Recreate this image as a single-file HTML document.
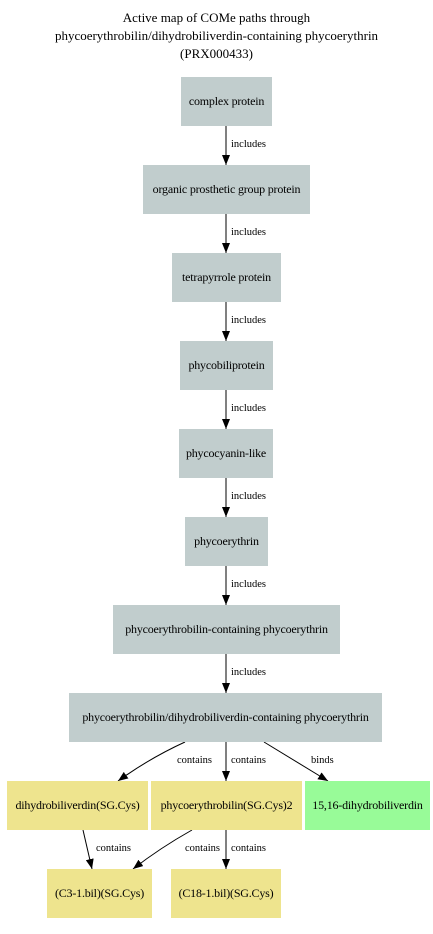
<!DOCTYPE html>
<html><head><meta charset="utf-8"><style>
body{margin:0;background:#fff;width:433px;height:934px;position:relative;overflow:hidden;font-family:"Liberation Serif",serif}
.n{position:absolute;display:flex;align-items:center;justify-content:center;font-size:12px;color:#000;white-space:nowrap;background:#c1cdcd;letter-spacing:-0.2px}
.y{background:#eee48e}.g{background:#98fb98}
.t{position:absolute;left:0;width:433px;text-align:center;font-size:13px;line-height:18px}
.l{position:absolute;font-size:10.5px;line-height:12px;white-space:nowrap}
svg{position:absolute;left:0;top:0}
</style></head><body>
<div class="t" style="top:9px">Active map of COMe paths through<br>phycoerythrobilin/dihydrobiliverdin-containing phycoerythrin<br>(PRX000433)</div>
<svg width="433" height="934">
<defs><marker id="a" markerWidth="10" markerHeight="8" refX="10" refY="4" orient="auto" markerUnits="userSpaceOnUse"><path d="M0,0L10,4L0,8z" fill="#000"/></marker></defs>
<g stroke="#000" stroke-width="1" marker-end="url(#a)">
<line x1="226" y1="126" x2="226" y2="165"/>
<line x1="226" y1="214" x2="226" y2="253"/>
<line x1="226" y1="302" x2="226" y2="341"/>
<line x1="226" y1="390" x2="226" y2="429"/>
<line x1="226" y1="478" x2="226" y2="517"/>
<line x1="226" y1="566" x2="226" y2="605"/>
<line x1="226" y1="654" x2="226" y2="693"/>
<path d="M185,742 Q150,758 118,781" fill="none"/>
<line x1="226" y1="742" x2="226" y2="781"/>
<line x1="264" y1="742" x2="328" y2="781"/>
<line x1="83" y1="830" x2="92" y2="869"/>
<path d="M192,830 Q160,848 133,869" fill="none"/>
<line x1="226" y1="830" x2="226" y2="869"/>
</g></svg>
<div class="l" style="left:231px;top:139px">includes</div>
<div class="l" style="left:231px;top:227px">includes</div>
<div class="l" style="left:231px;top:315px">includes</div>
<div class="l" style="left:231px;top:403px">includes</div>
<div class="l" style="left:231px;top:491px">includes</div>
<div class="l" style="left:231px;top:579px">includes</div>
<div class="l" style="left:231px;top:667px">includes</div>
<div class="l" style="left:177px;top:755px">contains</div>
<div class="l" style="left:231px;top:755px">contains</div>
<div class="l" style="left:311px;top:755px">binds</div>
<div class="l" style="left:96px;top:843px">contains</div>
<div class="l" style="left:185px;top:843px">contains</div>
<div class="l" style="left:231px;top:843px">contains</div>
<div class="n" style="left:181px;top:77px;width:91px;height:49px">complex protein</div>
<div class="n" style="left:143px;top:165px;width:167px;height:49px">organic prosthetic group protein</div>
<div class="n" style="left:172px;top:253px;width:109px;height:49px">tetrapyrrole protein</div>
<div class="n" style="left:180px;top:341px;width:93px;height:49px">phycobiliprotein</div>
<div class="n" style="left:179px;top:429px;width:94px;height:49px">phycocyanin-like</div>
<div class="n" style="left:185px;top:517px;width:83px;height:49px">phycoerythrin</div>
<div class="n" style="left:113px;top:605px;width:227px;height:49px">phycoerythrobilin-containing phycoerythrin</div>
<div class="n" style="left:69px;top:693px;width:313px;height:49px">phycoerythrobilin/dihydrobiliverdin-containing phycoerythrin</div>
<div class="n y" style="left:7px;top:781px;width:141px;height:49px">dihydrobiliverdin(SG.Cys)</div>
<div class="n y" style="left:151px;top:781px;width:151px;height:49px">phycoerythrobilin(SG.Cys)2</div>
<div class="n g" style="left:305px;top:781px;width:125px;height:49px">15,16-dihydrobiliverdin</div>
<div class="n y" style="left:47px;top:869px;width:105px;height:49px">(C3-1.bil)(SG.Cys)</div>
<div class="n y" style="left:171px;top:869px;width:110px;height:49px">(C18-1.bil)(SG.Cys)</div>
</body></html>
